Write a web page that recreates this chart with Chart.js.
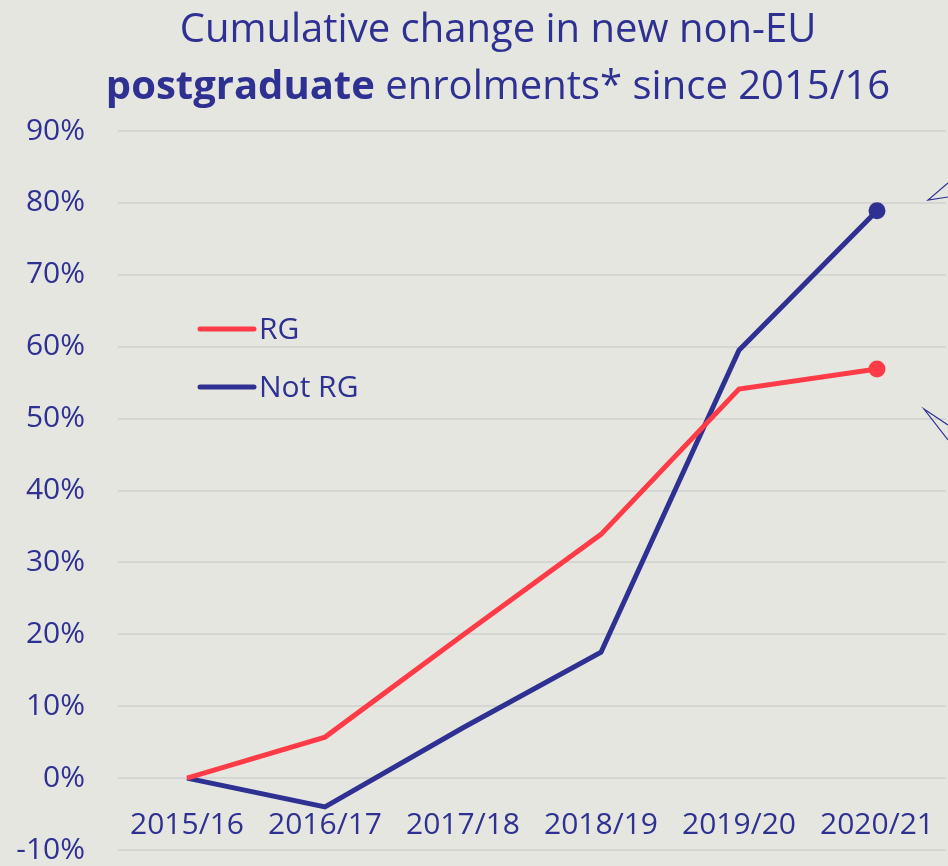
<!DOCTYPE html>
<html lang="en">
<head>
  <meta charset="UTF-8" />
  <title>Cumulative change in new non-EU postgraduate enrolments</title>
  <script src="https://cdn.jsdelivr.net/npm/chart.js"></script>
  <style>
    body {
      margin: 0;
      padding: 0;
      background-color: #e6e6e1;
      font-family: 'Open Sans', sans-serif;
    }
    .wrap {
      position: relative;
      width: 948px;
      height: 866px;
    }
    .title {
      position: absolute;
      left: 0;
      top: -2px;
      width: 996px;
      text-align: center;
      color: #2e3192;
      font-size: 40px;
      line-height: 57px;
    }
    canvas {
      position: absolute;
      left: 0;
      top: 0;
    }
  </style>
</head>
<body>
  <div class="wrap">
    <canvas id="chart" width="948" height="866"></canvas>
    <div class="title">Cumulative change in new non-EU<br><b>postgraduate</b> enrolments* since 2015/16</div>
  </div>

  <script>
    const years = ['2015/16', '2016/17', '2017/18', '2018/19', '2019/20', '2020/21'];
    const rgValues = [0, 5.7, 19.9, 33.9, 54.1, 56.9];
    const notRgValues = [0, -4.0, 7.0, 17.5, 59.5, 78.9];
    const yTicks = [-10, 0, 10, 20, 30, 40, 50, 60, 70, 80, 90];

    const blue = '#2e3192';
    const red = '#ff3b47';
    const font = "'Open Sans', sans-serif";

    // x labels sit just under the 0% line, legend + callout pointers drawn by hand
    const extras = {
      id: 'extras',
      afterDraw(chart) {
        const ctx = chart.ctx;
        const x = chart.scales.x;
        const y = chart.scales.y;
        const area = chart.chartArea;
        ctx.save();

        ctx.fillStyle = blue;
        ctx.font = '30px ' + font;
        ctx.textAlign = 'center';
        ctx.textBaseline = 'middle';
        const labelY = y.getPixelForValue(0) + 47;
        years.forEach((lab, i) => {
          ctx.fillText(lab, x.getPixelForValue(i), labelY);
        });

        // legend
        ctx.textAlign = 'left';
        ctx.lineCap = 'round';
        ctx.lineWidth = 5;
        chart.data.datasets.forEach((ds, i) => {
          const ly = area.top + 198 + i * 58;
          ctx.strokeStyle = ds.borderColor;
          ctx.beginPath();
          ctx.moveTo(area.left + 82, ly);
          ctx.lineTo(area.left + 136, ly);
          ctx.stroke();
          ctx.fillStyle = blue;
          ctx.fillText(ds.label, area.left + 141, ly + 1);
        });

        // callout pointers at the right edge
        ctx.strokeStyle = blue;
        ctx.lineWidth = 1.2;
        ctx.lineCap = 'butt';
        ctx.beginPath();
        ctx.moveTo(948, 183);
        ctx.lineTo(928, 200);
        ctx.lineTo(948, 197);
        ctx.moveTo(948, 425);
        ctx.lineTo(924, 409);
        ctx.lineTo(948, 440);
        ctx.stroke();

        ctx.restore();
      }
    };

    new Chart(document.getElementById('chart'), {
      type: 'line',
      data: {
        labels: years,
        datasets: [
          {
            label: 'RG',
            data: rgValues,
            borderColor: red,
            backgroundColor: red,
            borderWidth: 5,
            pointRadius: [0, 0, 0, 0, 0, 8.5],
            pointBorderWidth: 0,
            tension: 0
          },
          {
            label: 'Not RG',
            data: notRgValues,
            borderColor: blue,
            backgroundColor: blue,
            borderWidth: 5,
            pointRadius: [0, 0, 0, 0, 0, 8.5],
            pointBorderWidth: 0,
            tension: 0
          }
        ]
      },
      options: {
        responsive: false,
        animation: false,
        layout: {
          autoPadding: false,
          padding: { top: 131, bottom: 16, left: 0, right: 2 }
        },
        plugins: {
          legend: { display: false },
          tooltip: { enabled: false }
        },
        scales: {
          x: {
            display: false,
            offset: true
          },
          y: {
            min: -10,
            max: 90,
            afterBuildTicks: s => { s.ticks = yTicks.map(v => ({ value: v })); },
            afterFit: s => {
              s.width = 118;
              s.paddingTop = 0;
              s.paddingBottom = 0;
            },
            grid: { color: '#d5d5d1', lineWidth: 2, drawTicks: false },
            border: { display: false },
            ticks: {
              padding: 33,
              color: blue,
              font: { family: font, size: 30 },
              callback: v => v + '%'
            }
          }
        }
      },
      plugins: [extras]
    });
  </script>
</body>
</html>
